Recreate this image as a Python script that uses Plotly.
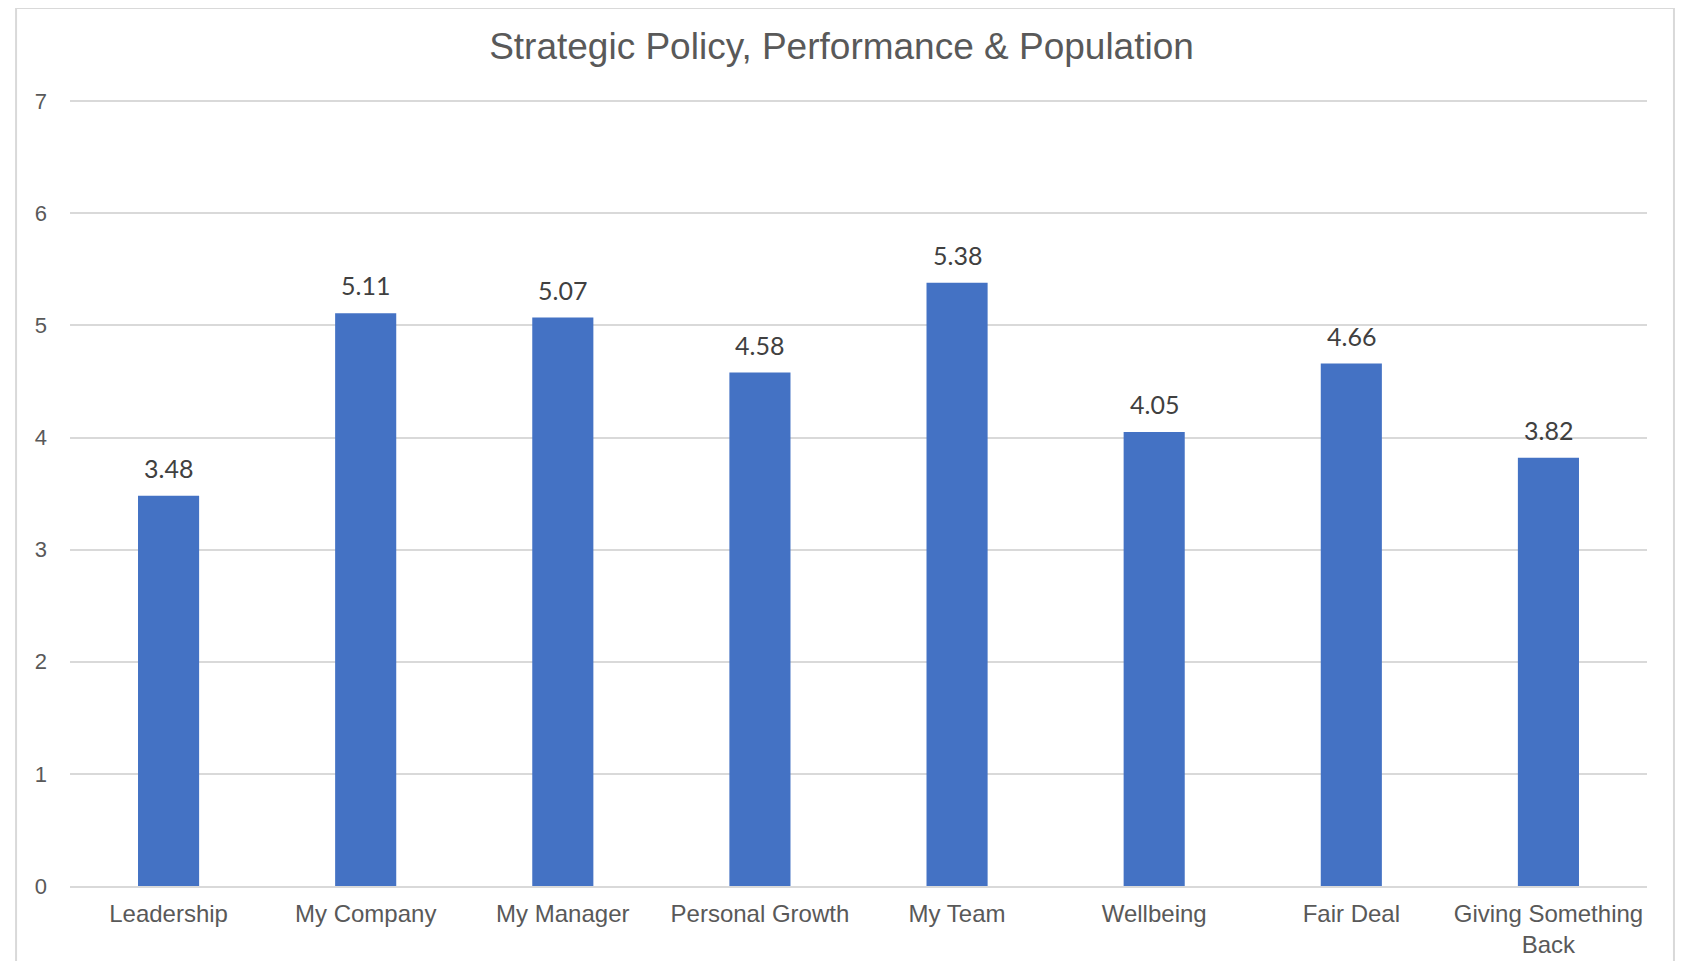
import plotly.graph_objects as go

categories = ["Leadership", "My Company", "My Manager", "Personal Growth",
              "My Team", "Wellbeing", "Fair Deal", "Giving Something<br>Back"]
scores = [3.48, 5.11, 5.07, 4.58, 5.38, 4.05, 4.66, 3.82]
y_ticks = [0, 1, 2, 3, 4, 5, 6, 7]

BAR = "#4472C4"
GREY = "#595959"
GRID = "#d9d9d9"

fig = go.Figure(
    go.Bar(
        x=categories,
        y=scores,
        marker=dict(color=BAR, line=dict(width=0)),
        hovertemplate="<b>%{x}</b><br>%{y}<extra></extra>",
    )
)

# value labels sit a bit above each bar, like the Excel data labels
for c, v in zip(categories, scores):
    fig.add_annotation(
        x=c, y=v, text=f"{v:.2f}", showarrow=False,
        yanchor="bottom", yshift=11,
        font=dict(family="Lato, sans-serif", size=25, color="#404040"),
    )

# light frame round the whole chart
fig.add_shape(
    type="rect", xref="paper", yref="paper",
    x0=-0.0342, x1=1.0171, y0=-0.3, y1=1.1156,
    line=dict(color=GRID, width=2), fillcolor="rgba(0,0,0,0)", layer="below",
)

# page has an 8px body margin, so keep the figure inside the window
fig.update_layout(
    width=1667,
    height=953,
    title=dict(
        text="Strategic Policy, Performance & Population",
        x=0.5, xanchor="center", y=0.960, yanchor="middle",
        font=dict(family="Liberation Sans, Arial, sans-serif", size=37, color=GREY),
    ),
    plot_bgcolor="white",
    paper_bgcolor="white",
    font=dict(family="Liberation Sans, Arial, sans-serif", size=24, color=GREY),
    bargap=0.69,
    showlegend=False,
    margin=dict(l=62, r=28, t=91, b=75),
    xaxis=dict(
        showgrid=False, showline=True, linecolor=GRID, linewidth=2, automargin=False,
        ticks="", tickfont=dict(size=24, color=GREY), ticklabelstandoff=5,
    ),
    yaxis=dict(
        range=[0, 7.02], tickvals=y_ticks, showgrid=True, gridcolor=GRID, gridwidth=2,
        zeroline=False, showline=False, ticks="", automargin=False,
        tickfont=dict(size=22, color=GREY), ticklabelstandoff=22,
    ),
)

fig.write_html("out.html")
